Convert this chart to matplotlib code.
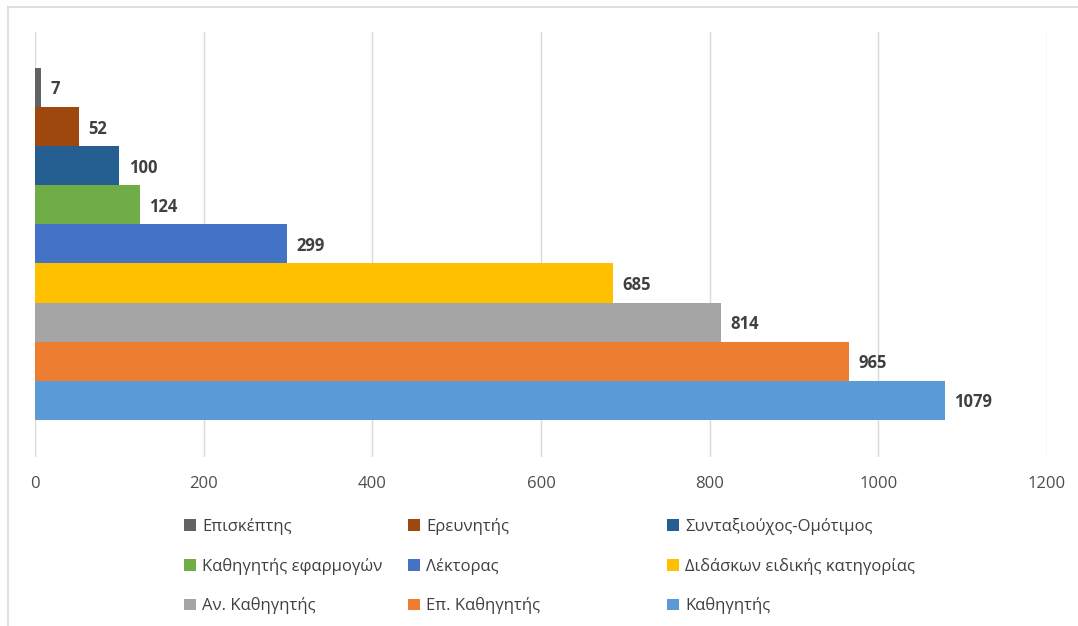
import matplotlib.pyplot as plt
from matplotlib.lines import Line2D
from matplotlib.patches import Patch

plt.rcParams["font.family"] = ["Open Sans", "DejaVu Sans"]

# bottom to top
categories = ["Καθηγητής", "Επ. Καθηγητής", "Αν. Καθηγητής",
              "Διδάσκων ειδικής κατηγορίας", "Λέκτορας", "Καθηγητής εφαρμογών",
              "Συνταξιούχος-Ομότιμος", "Ερευνητής", "Επισκέπτης"]
values = [1079, 965, 814, 685, 299, 124, 100, 52, 7]
colors = ["#5B9BD5", "#ED7D31", "#A5A5A5", "#FFC000", "#4472C4",
          "#70AD47", "#255E91", "#9E480E", "#636363"]
xticks = [0, 200, 400, 600, 800, 1000, 1200]

fig = plt.figure(figsize=(10.78, 6.26), dpi=100)
ax = fig.add_axes([0.0325, 0.270, 0.9387, 0.679])

for i, (name, v, c) in enumerate(zip(categories, values, colors)):
    ax.barh(i, v, height=1.0, color=c, zorder=3)
    ax.text(v + 11, i - 0.05, str(v), va="center", ha="left",
            fontsize=12, fontweight="bold", color="#404040")

ax.set_xlim(0, 1200)
ax.set_ylim(-1.45, 9.42)
ax.set_xticks(xticks)
ax.set_xticklabels([str(t) for t in xticks], fontsize=12, color="#4d4d4d")
ax.tick_params(axis="x", length=0, pad=14)
ax.set_yticks([])
ax.grid(axis="x", color="#D9D9D9", linewidth=1, zorder=0)
for s in ax.spines.values():
    s.set_visible(False)

# legend: three columns, row-major like the original
legend_cols = [
    ["Επισκέπτης", "Καθηγητής εφαρμογών", "Αν. Καθηγητής"],
    ["Ερευνητής", "Λέκτορας", "Επ. Καθηγητής"],
    ["Συνταξιούχος-Ομότιμος", "Διδάσκων ειδικής κατηγορίας", "Καθηγητής"],
]
col_x = [184 / 1078, 408 / 1078, 667 / 1078]
for cx, names in zip(col_x, legend_cols):
    hs = [Patch(facecolor=colors[categories.index(n)]) for n in names]
    fig.legend(hs, names, loc="upper left", bbox_to_anchor=(cx, 1 - 518 / 626),
               frameon=False, fontsize=12, labelcolor="#404040",
               handlelength=0.7, handleheight=0.7, handletextpad=0.4,
               labelspacing=1.36, borderpad=0, borderaxespad=0)

# outer frame
fig.add_artist(Line2D([8 / 1078, 8 / 1078], [0, 1 - 7 / 626], transform=fig.transFigure,
                      color="#D9D9D9", linewidth=1.2))
fig.add_artist(Line2D([8 / 1078, 1], [1 - 7 / 626, 1 - 7 / 626], transform=fig.transFigure,
                      color="#D9D9D9", linewidth=1.2))

fig.savefig("out.png", dpi=100)
